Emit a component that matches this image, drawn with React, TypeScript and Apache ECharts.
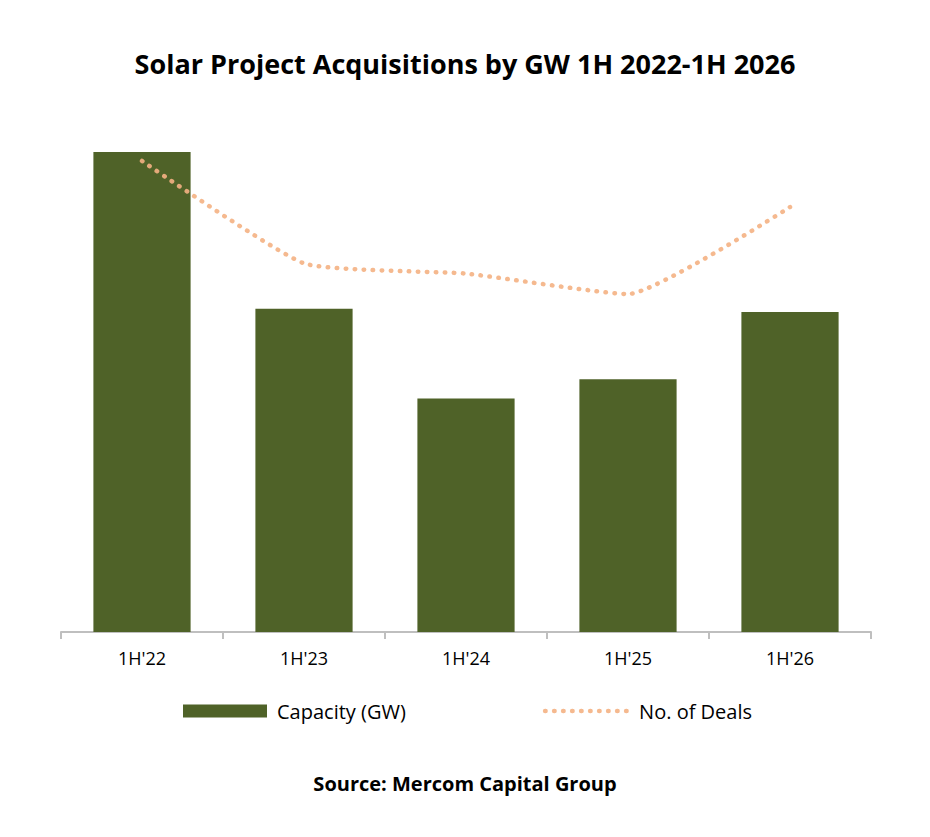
import * as echarts from "echarts";
import { useEffect, useRef } from "react";

const categories = ["1H'22", "1H'23", "1H'24", "1H'25", "1H'26"];
const capacityGW = [15.0, 10.1, 7.3, 7.9, 10.0];
const dealCounts = [92, 72, 70, 66, 83];

const font = "'Open Sans', 'Liberation Sans', sans-serif";

const dotted = {
	color: "#f4b183",
	opacity: 0.9,
	width: 4.5,
	type: [0.5, 8.5] as number[],
	cap: "round" as const
};

const option: echarts.EChartsOption = {
	animation: false,
	backgroundColor: "#ffffff",
	textStyle: { fontFamily: font },
	title: {
		text: "Solar Project Acquisitions by GW 1H 2022-1H 2026",
		left: "center",
		top: 45,
		textStyle: { fontFamily: font, fontSize: 27, fontWeight: "bold", color: "#000000" }
	},
	legend: {
		bottom: 111,
		left: 178,
		itemGap: 137,
		itemWidth: 84,
		itemHeight: 13,
		textStyle: { fontFamily: font, fontSize: 20, color: "#000000", padding: [0, 0, 0, 5] },
		data: [
			{ name: "Capacity (GW)", icon: "rect" },
			{ name: "No. of Deals", itemStyle: { opacity: 0 }, lineStyle: dotted }
		]
	},
	grid: {
		left: 61,
		right: 59,
		top: 120,
		bottom: 205
	},
	xAxis: {
		type: "category",
		data: categories,
		axisLine: { lineStyle: { color: "#bfbfbf", width: 2 } },
		axisTick: { show: true, length: 7, lineStyle: { color: "#bfbfbf", width: 2 } },
		axisLabel: { fontFamily: font, fontSize: 18, color: "#000000", margin: 17 }
	},
	yAxis: [
		{ type: "value", min: 0, max: 16, show: false, splitLine: { show: false } },
		{ type: "value", min: 0, max: 100, show: false, splitLine: { show: false } }
	],
	series: [
		{
			name: "Capacity (GW)",
			type: "bar",
			data: capacityGW,
			barWidth: "60%",
			itemStyle: { color: "#4f6228" }
		},
		{
			name: "No. of Deals",
			type: "line",
			yAxisIndex: 1,
			data: dealCounts,
			smooth: 0.15,
			symbol: "none",
			lineStyle: dotted,
			itemStyle: { color: "#f4b183" }
		}
	],
	graphic: [
		{
			type: "text",
			left: "center",
			top: 773,
			style: {
				text: "Source: Mercom Capital Group",
				fontFamily: font,
				fontSize: 20,
				fontWeight: "bold",
				fill: "#000000"
			}
		}
	]
};

const App = () => {
	const chartRef = useRef<HTMLDivElement>(null);

	useEffect(() => {
		const chart = echarts.init(chartRef.current!, null, { renderer: "svg" });
		chart.setOption(option);

		return () => {
			chart.dispose();
		};
	}, []);

	return (
		<div
			ref={chartRef}
			style={{ position: "absolute", left: 0, top: 0, width: "930px", height: "837px" }}
		/>
	);
};

export default App;
